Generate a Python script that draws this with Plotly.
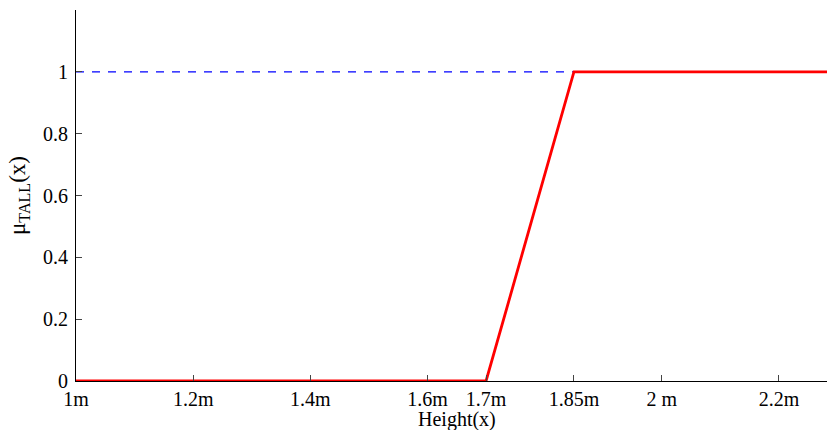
import plotly.graph_objects as go

# Membership function of the fuzzy set TALL over height (metres)
height = [1.0, 1.7, 1.85, 2.3]
mu_tall = [0.0, 0.0, 1.0, 1.0]

# Reference level at full membership, drawn up to the shoulder point
ref_x = [1.0, 1.85]
ref_y = [1.0, 1.0]

x_ticks = [1.0, 1.2, 1.4, 1.6, 1.7, 1.85, 2.0, 2.2]
x_tick_labels = ["1m", "1.2m", "1.4m", "1.6m", "1.7m", "1.85m", "2 m", "2.2m"]
y_ticks = [0, 0.2, 0.4, 0.6, 0.8, 1]
y_tick_labels = ["0", "0.2", "0.4", "0.6", "0.8", "1"]

FONT = "Liberation Serif, Times New Roman, serif"

fig = go.Figure()
fig.add_trace(go.Scatter(
    x=ref_x, y=ref_y, mode="lines",
    line=dict(color="#0000ff", width=1.3, dash="8px,8px"),
    hoverinfo="skip", showlegend=False,
))
fig.add_trace(go.Scatter(
    x=height, y=mu_tall, mode="lines",
    line=dict(color="red", width=2.8),
    showlegend=False, cliponaxis=False,
))

fig.update_layout(
    width=827, height=430,
    margin=dict(l=76, r=0, t=10, b=49),
    paper_bgcolor="white", plot_bgcolor="white",
    font=dict(family=FONT, size=20, color="black"),
    xaxis=dict(
        range=[1.0, 2.282], tickmode="array",
        tickvals=x_ticks, ticktext=x_tick_labels,
        ticks="inside", ticklen=6, tickcolor="#444", tickwidth=1,
        showline=True, linecolor="black", linewidth=1,
        showgrid=False, zeroline=False, ticklabelstandoff=0,
    ),
    yaxis=dict(
        range=[0, 1.2], tickmode="array",
        tickvals=y_ticks, ticktext=y_tick_labels,
        ticks="inside", ticklen=6, tickcolor="#444", tickwidth=1,
        showline=True, linecolor="black", linewidth=1,
        showgrid=False, zeroline=False, ticklabelstandoff=3,
        title=dict(text="μ<sub>TALL</sub>(x)", standoff=10,
                   font=dict(family=FONT, size=23)),
    ),
    annotations=[dict(
        text="Height(x)", x=1.65, xref="x", y=0, yref="paper",
        xanchor="center", yanchor="top", yshift=-25, showarrow=False,
        font=dict(family=FONT, size=20),
    )],
)

fig.write_html("out.html")
